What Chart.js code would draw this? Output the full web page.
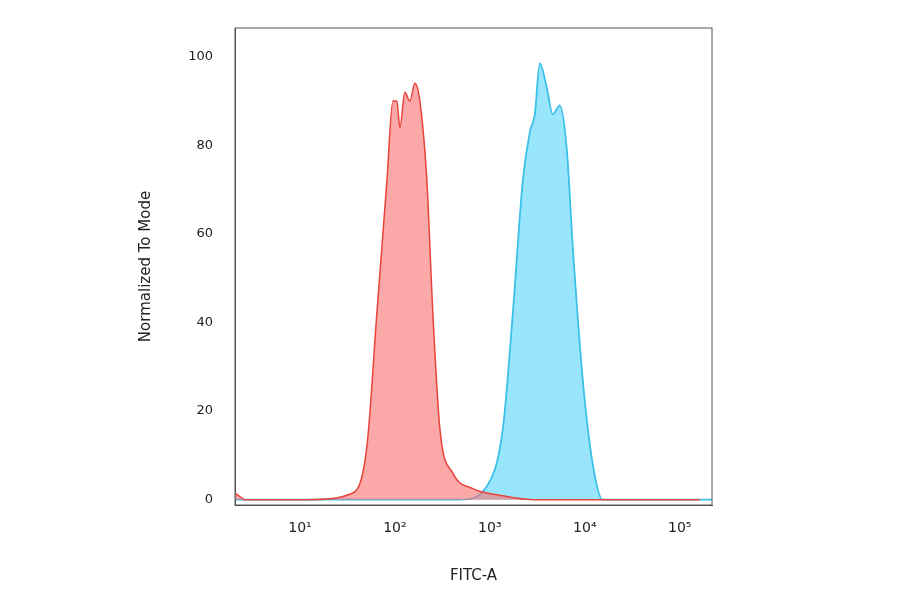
<!DOCTYPE html>
<html><head><meta charset="utf-8">
<script src="https://cdn.jsdelivr.net/npm/chart.js@4"></script>
<style>html,body{margin:0;padding:0;background:#fff}#c{display:block}</style>
</head><body><canvas id="c" width="900" height="594"></canvas>
<script>
// x values are log10(FITC-A)
const redX = [0.316,0.35,0.42,1.074,1.558,1.705,1.81,1.916,1.979,2.021,2.053,2.105,2.158,2.211,2.263,2.337,2.4,2.474,2.611,2.821,3.105,3.453,5.21];
const redY = [1.5,1,0,0,1.5,12,42,72,90,90,84,92,90,94,90,72,42,16,6,2.5,1,0,0];
const blueX = [0.316,2.684,2.968,3.137,3.242,3.347,3.421,3.474,3.526,3.6,3.663,3.737,3.811,3.874,3.979,4.084,4.189,5.34];
const blueY = [0,0,3,16,42,72,83,87,98.5,93,87,89,79,57,27,8,0,0];
const yTicks = [0,20,40,60,80,100];
const xTicks = [1,2,3,4,5];
const sup = {1:'¹',2:'²',3:'³',4:'⁴',5:'⁵'};
const pts = (xs,ys)=>xs.map((x,i)=>({x,y:ys[i]}));
new Chart(document.getElementById('c'),{
 type:'line',
 data:{datasets:[
  {data:pts(redX,redY),borderColor:'#e8433a',backgroundColor:'rgba(248,110,110,0.6)',fill:'origin',borderWidth:1.5,pointRadius:0,cubicInterpolationMode:'monotone'},
  {data:pts(blueX,blueY),borderColor:'#3cc0e8',backgroundColor:'rgba(70,210,250,0.55)',fill:'origin',borderWidth:1.8,pointRadius:0,cubicInterpolationMode:'monotone'}
 ]},
 options:{responsive:false,animation:false,
  layout:{padding:{left:133,right:188,top:28,bottom:5}},
  plugins:{legend:{display:false},tooltip:{enabled:false}},
  scales:{
   x:{type:'linear',min:0.316,max:5.34,
     afterBuildTicks:s=>{s.ticks=xTicks.map(v=>({value:v}));},
     afterFit:s=>{s.height=84;},
     grid:{display:false,drawTicks:true,tickLength:5},border:{color:'#555'},
     ticks:{color:'#222',font:{family:'DejaVu Sans',size:14},padding:10,callback:v=>'10'+sup[v]},
     title:{display:true,text:'FITC-A',color:'#222',font:{family:'DejaVu Sans',size:15},padding:{top:14}}},
   y:{type:'linear',min:-1.2,max:106.5,
     afterBuildTicks:s=>{s.ticks=yTicks.map(v=>({value:v}));},
     afterFit:s=>{s.width=102;},
     grid:{display:false},border:{color:'#555'},
     ticks:{color:'#222',font:{family:'DejaVu Sans',size:13},padding:14},
     title:{display:true,text:'Normalized To Mode',color:'#222',font:{family:'DejaVu Sans',size:15}}}
  }},
 plugins:[{id:'box',afterDraw(c){const a=c.chartArea,x=c.ctx;x.save();x.strokeStyle='#555';x.lineWidth=1;x.strokeRect(a.left,a.top,a.right-a.left,a.bottom-a.top);x.restore();}}]
});
</script></body></html>
